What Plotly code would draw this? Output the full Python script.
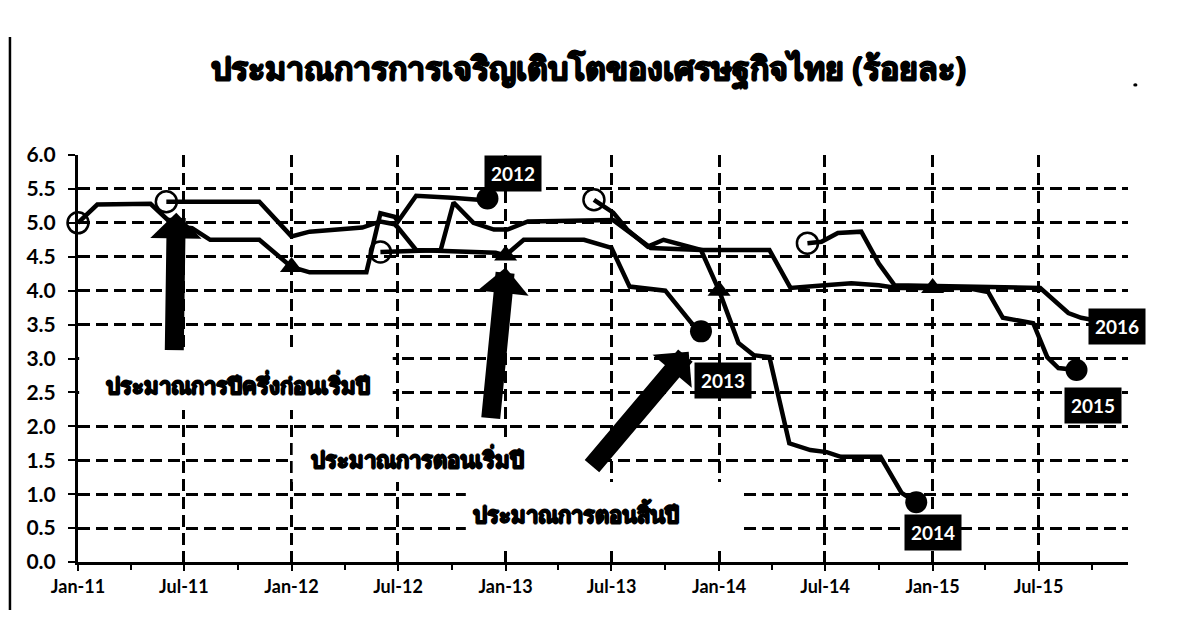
import plotly.graph_objects as go

# ---------------- data ----------------
title_text = "ประมาณการการเจริญเติบโตของเศรษฐกิจไทย (ร้อยละ)"

dates_2012 = ["2011-01-01", "2011-02-03", "2011-05-05", "2011-06-15", "2011-07-15", "2011-08-15",
              "2011-11-07", "2012-01-01", "2012-02-01", "2012-05-08", "2012-06-01", "2012-06-25",
              "2012-07-01", "2012-08-01", "2012-10-01", "2012-11-15", "2012-12-01"]
vals_2012 = [5.00, 5.27, 5.28, 4.95, 4.92, 4.75, 4.75, 4.35, 4.27, 4.27, 5.14, 5.09,
             5.02, 5.40, 5.37, 5.34, 5.36]

dates_2013 = ["2011-06-01", "2011-11-07", "2012-01-01", "2012-02-01", "2012-05-01", "2012-06-01",
              "2012-06-25", "2012-07-01", "2012-08-01", "2012-12-15", "2013-01-01", "2013-02-01",
              "2013-05-15", "2013-06-15", "2013-07-01", "2013-08-01", "2013-10-01", "2013-11-15",
              "2013-12-01"]
vals_2013 = [5.31, 5.31, 4.80, 4.87, 4.93, 5.02, 4.98, 4.93, 4.60, 4.56, 4.52, 4.75,
             4.75, 4.68, 4.63, 4.06, 4.00, 3.52, 3.40]

dates_2014 = ["2012-06-01", "2012-09-12", "2012-10-04", "2012-11-07", "2012-12-12", "2013-01-04",
              "2013-02-08", "2013-07-04", "2013-09-06", "2013-12-01", "2014-01-01", "2014-02-03",
              "2014-03-01", "2014-03-28", "2014-05-01", "2014-06-06", "2014-07-04", "2014-07-28",
              "2014-10-04", "2014-11-09", "2014-12-04"]
vals_2014 = [4.57, 4.60, 5.30, 5.00, 4.90, 4.90, 5.02, 5.04, 4.63, 4.60, 4.00, 3.23,
             3.05, 3.02, 1.75, 1.65, 1.62, 1.55, 1.55, 1.02, 0.88]

dates_2015 = ["2013-06-01", "2013-07-04", "2013-07-28", "2013-09-01", "2013-09-28", "2013-10-28",
              "2013-12-01", "2014-03-28", "2014-05-03", "2014-07-01", "2014-08-15", "2014-10-01",
              "2014-11-01", "2015-01-01", "2015-03-01", "2015-04-06", "2015-05-01", "2015-06-22",
              "2015-07-16", "2015-08-04", "2015-09-04"]
vals_2015 = [5.34, 5.15, 4.90, 4.65, 4.75, 4.68, 4.60, 4.60, 4.04, 4.08, 4.11, 4.08,
             4.04, 4.04, 4.04, 3.98, 3.60, 3.52, 3.02, 2.86, 2.83]

dates_2016 = ["2014-06-01", "2014-06-25", "2014-07-23", "2014-09-01", "2014-10-01", "2014-10-28",
              "2015-07-04", "2015-08-21", "2015-09-12", "2015-10-01"]
vals_2016 = [4.70, 4.72, 4.85, 4.87, 4.40, 4.08, 4.04, 3.67, 3.60, 3.57]

# marker points: first forecast (open circle), start-of-year (triangle), end-of-year (filled circle)
open_dates = ["2011-01-01", "2011-06-01", "2012-06-01", "2013-06-01", "2014-06-01"]
open_vals = [5.00, 5.31, 4.57, 5.34, 4.70]
tri_dates = ["2012-01-01", "2013-01-01", "2014-01-01", "2015-01-01"]
tri_vals = [4.35, 4.52, 4.00, 4.04]
end_dates = ["2012-12-01", "2013-12-01", "2014-12-04", "2015-09-04"]
end_vals = [5.36, 3.40, 0.88, 2.83]

year_labels = ["2012", "2013", "2014", "2015", "2016"]
year_label_x = ["2013-01-13", "2014-01-08", "2015-01-02", "2015-10-03", "2015-11-12"]
year_label_y = [5.72, 2.67, 0.43, 2.30, 3.47]

note_texts = ["ประมาณการปีครึ่งก่อนเริ่มปี", "ประมาณการตอนเริ่มปี", "ประมาณการตอนสิ้นปี"]

# ---------------- figure ----------------
BOLD = "Lato"
EMB = "0.8px 0 0 black, -0.8px 0 0 black, 0 0.6px 0 black, 0 -0.6px 0 black"
fig = go.Figure()

for d, v in [(dates_2012, vals_2012), (dates_2013, vals_2013), (dates_2014, vals_2014),
             (dates_2015, vals_2015), (dates_2016, vals_2016)]:
    fig.add_trace(go.Scatter(x=d, y=v, mode="lines", line=dict(color="black", width=4.5),
                             cliponaxis=False, showlegend=False, hoverinfo="skip"))

fig.add_trace(go.Scatter(x=open_dates, y=open_vals, mode="markers", cliponaxis=False,
                         marker=dict(symbol="circle-open", size=21, color="black",
                                     line=dict(width=2.5, color="black")), showlegend=False))
fig.add_trace(go.Scatter(x=tri_dates, y=tri_vals, mode="markers", cliponaxis=False,
                         marker=dict(symbol="triangle-up", size=20, color="black"), showlegend=False))
fig.add_trace(go.Scatter(x=end_dates, y=end_vals, mode="markers", cliponaxis=False,
                         marker=dict(symbol="circle", size=22, color="black"), showlegend=False))

# white panels behind the notes (hide gridlines)
shapes = [
    dict(type="rect", xref="x", yref="y", x0="2011-01-03", x1="2012-06-22", y0=2.24, y1=3.16,
         fillcolor="white", line=dict(width=0), layer="between"),
    dict(type="rect", xref="x", yref="y", x0="2012-01-03", x1="2013-06-20", y0=1.18, y1=1.80,
         fillcolor="white", line=dict(width=0), layer="between"),
    dict(type="rect", xref="x", yref="y", x0="2012-10-25", x1="2014-02-10", y0=0.21, y1=1.18,
         fillcolor="white", line=dict(width=0), layer="between"),
    # page border on the left
    dict(type="line", xref="paper", yref="paper", x0=-0.0648, x1=-0.0648, y0=-0.118, y1=1.29,
         line=dict(color="black", width=2.5)),
    dict(type="circle", xref="paper", yref="paper", x0=1.005, x1=1.009, y0=1.168, y1=1.176,
         fillcolor="black", line=dict(width=0)),
]

annotations = [
    dict(text="<b>" + title_text + "</b>", xref="paper", yref="paper", x=0.486, y=1.213,
         showarrow=False, font=dict(size=32, color="black", family="Noto Sans", shadow=EMB),
         xanchor="center", yanchor="middle"),
]
for t, x, y in zip(year_labels, year_label_x, year_label_y):
    annotations.append(dict(text="<b>" + t + "</b>", x=x, y=y, xref="x", yref="y", showarrow=False,
                            bgcolor="black", borderpad=6, font=dict(color="white", size=19, family=BOLD)))

note_x = ["2011-10-01", "2012-08-04", "2013-05-01"]
note_y = [2.61, 1.52, 0.71]
for t, x, y in zip(note_texts, note_x, note_y):
    annotations.append(dict(text="<b>" + t + "</b>", x=x, y=y, xref="x", yref="y", showarrow=False,
                            font=dict(color="black", size=22, family="Noto Sans", shadow=EMB)))

# block arrows
arrow_tips_x = ["2011-06-18", "2013-01-01", "2013-11-10"]
arrow_tips_y = [5.15, 4.34, 3.10]
arrow_off = [(-2, 139), (-15, 152), (-98, 116)]
for x, y, (ax, ay) in zip(arrow_tips_x, arrow_tips_y, arrow_off):
    annotations.append(dict(x=x, y=y, xref="x", yref="y", ax=ax, ay=ay, text="",
                            showarrow=True, arrowhead=1, arrowsize=0.45, arrowwidth=19,
                            arrowcolor="black"))

dash = "12px,6px"
fig.update_layout(
    width=1180, height=619,
    margin=dict(l=70, r=60, t=147, b=65),
    paper_bgcolor="white", plot_bgcolor="white",
    showlegend=False,
    shapes=shapes, annotations=annotations,
    xaxis=dict(type="date", range=["2011-01-01", "2015-12-01"], dtick="M6", tick0="2011-01-01",
               tickformat="%b-%y", ticks="outside", ticklen=6, tickwidth=2, tickcolor="black",
               showline=True, linecolor="black", linewidth=3,
               showgrid=True, gridcolor="black", gridwidth=2.5, griddash=dash, zeroline=False,
               minor=dict(dtick="M3", ticks="outside", ticklen=5, tickwidth=2, tickcolor="black",
                          showgrid=False),
               tickfont=dict(size=18, color="black", family=BOLD, weight="bold"),
               ticklabelstandoff=0),
    yaxis=dict(range=[0, 6], dtick=0.5, tick0=0, tickformat=".1f", ticks="outside", ticklen=7,
               tickwidth=2, tickcolor="black", showline=True, linecolor="black", linewidth=3,
               showgrid=True, gridcolor="black", gridwidth=2.5, griddash=dash, zeroline=False,
               tickfont=dict(size=21, color="black", family=BOLD, weight="bold"),
               ticklabelstandoff=8),
)

fig.write_html("out.html")
